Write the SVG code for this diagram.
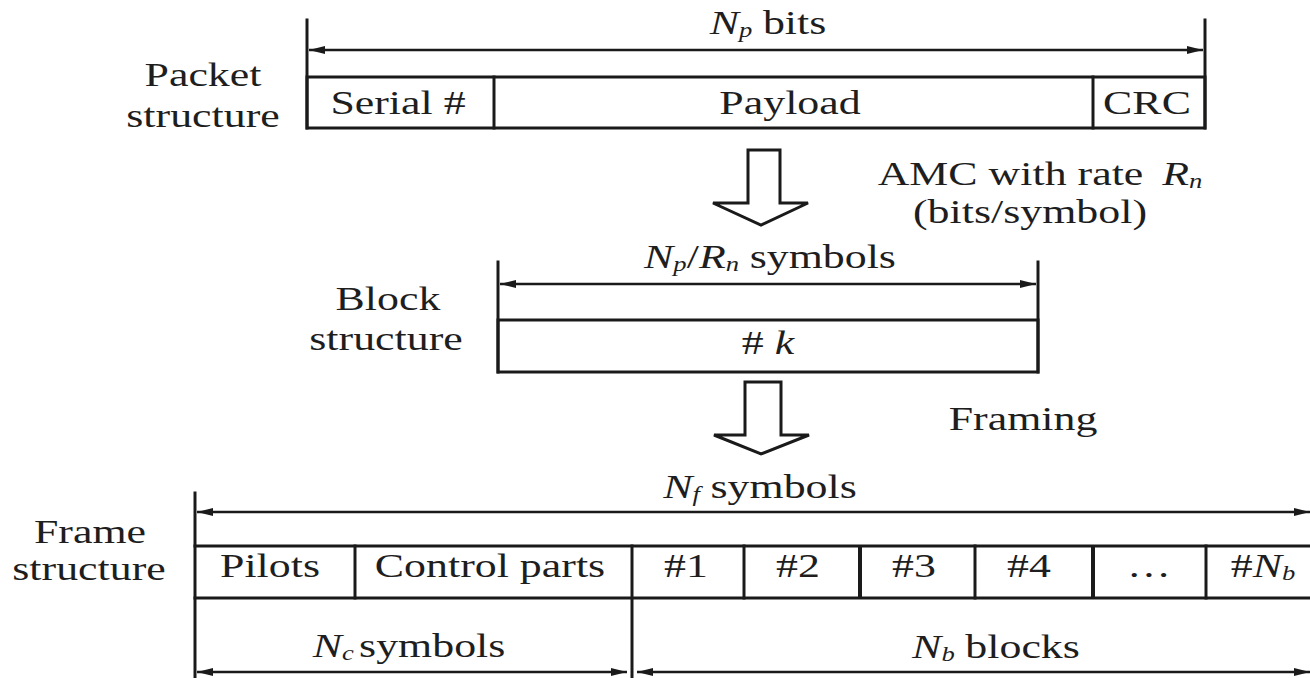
<svg xmlns="http://www.w3.org/2000/svg" width="1310" height="678" viewBox="0 0 1310 678">
  <defs>
    <style>
      .bg { fill: #ffffff; }
      .edge { stroke: #1a1a1a; stroke-width: 3; fill: none; stroke-linecap: square; }
      .thick { stroke: #1a1a1a; stroke-width: 4; fill: none; }
      .dim { stroke: #1a1a1a; stroke-width: 2.5; fill: none; marker-start: url(#tip); marker-end: url(#tip); }
      .flow { fill: #ffffff; stroke: #1a1a1a; stroke-width: 3; stroke-linejoin: miter; }
      .t { font-family: "Liberation Serif", "Times New Roman", serif; font-size: 33px; fill: #1e1e1e; text-anchor: middle; }
      .i { font-style: italic; }
      .s { font-style: italic; font-size: 20px; }
    </style>
    <marker id="tip" viewBox="0 0 16 10" refX="16" refY="5" markerWidth="16" markerHeight="10" markerUnits="userSpaceOnUse" orient="auto-start-reverse">
      <path d="M0,1 L16,5 L0,9 z" fill="#1a1a1a"/>
    </marker>
  </defs>

  <rect class="bg" x="0" y="0" width="1310" height="678"/>

  <!-- Packet structure -->
  <g id="packet">
    <text class="t" transform="translate(203 86) scale(1.33 1)">Packet</text>
    <text class="t" transform="translate(203 127) scale(1.33 1)">structure</text>
    <line class="edge" x1="307" y1="20" x2="307" y2="128"/>
    <line class="edge" x1="1205" y1="20" x2="1205" y2="128"/>
    <rect class="edge" x="307" y="77" width="898" height="51"/>
    <line class="edge" x1="494" y1="77" x2="494" y2="128"/>
    <line class="edge" x1="1093" y1="77" x2="1093" y2="128"/>
    <text class="t" transform="translate(398 114) scale(1.33 1)">Serial #</text>
    <text class="t" transform="translate(790 114) scale(1.33 1)">Payload</text>
    <text class="t" transform="translate(1147 114) scale(1.33 1)">CRC</text>
    <text class="t" transform="translate(768 34) scale(1.33 1)"><tspan class="i">N</tspan><tspan class="s" dy="3">p</tspan><tspan dy="-3" dx="8">bits</tspan></text>
  </g>

  <!-- Block structure -->
  <g id="block">
    <text class="t" transform="translate(388 310) scale(1.33 1)">Block</text>
    <text class="t" transform="translate(386 350) scale(1.33 1)">structure</text>
    <line class="edge" x1="498" y1="262" x2="498" y2="372"/>
    <line class="edge" x1="1038" y1="262" x2="1038" y2="372"/>
    <rect class="edge" x="498" y="320" width="540" height="52"/>
    <text class="t" transform="translate(768 354) scale(1.33 1)"># <tspan class="i">k</tspan></text>
    <text class="t" transform="translate(770 268) scale(1.33 1)"><tspan class="i">N</tspan><tspan class="s" dy="3">p</tspan><tspan dy="-3">/</tspan><tspan class="i">R</tspan><tspan class="s" dy="3">n</tspan><tspan dy="-3" dx="8">symbols</tspan></text>
  </g>

  <!-- Frame structure -->
  <g id="frame">
    <text class="t" transform="translate(90 543) scale(1.33 1)">Frame</text>
    <text class="t" transform="translate(89 580) scale(1.33 1)">structure</text>
    <line class="edge" x1="195" y1="493" x2="195" y2="678"/>
    <line class="edge" x1="195" y1="546" x2="1312" y2="546"/>
    <line class="edge" x1="195" y1="598" x2="1312" y2="598"/>
    <line class="edge" x1="355" y1="546" x2="355" y2="598"/>
    <line class="edge" x1="632" y1="546" x2="632" y2="678"/>
    <line class="edge" x1="744" y1="546" x2="744" y2="598"/>
    <line class="thick" x1="860" y1="546" x2="860" y2="598"/>
    <line class="edge" x1="975" y1="546" x2="975" y2="598"/>
    <line class="thick" x1="1093" y1="546" x2="1093" y2="598"/>
    <line class="edge" x1="1206" y1="546" x2="1206" y2="598"/>
    <text class="t" transform="translate(270 577) scale(1.33 1)">Pilots</text>
    <text class="t" transform="translate(490 577) scale(1.33 1)">Control parts</text>
    <text class="t" transform="translate(686 577) scale(1.33 1)">#1</text>
    <text class="t" transform="translate(798 577) scale(1.33 1)">#2</text>
    <text class="t" transform="translate(914 577) scale(1.33 1)">#3</text>
    <text class="t" transform="translate(1029 577) scale(1.33 1)">#4</text>
    <text class="t" transform="translate(1149 577) scale(1.33 1)">…</text>
    <text class="t" transform="translate(1263 577) scale(1.33 1)">#<tspan class="i">N</tspan><tspan class="s" dy="3">b</tspan></text>
    <text class="t" transform="translate(760 498) scale(1.33 1)"><tspan class="i">N</tspan><tspan class="s" dy="3">f</tspan><tspan dy="-3" dx="8">symbols</tspan></text>
    <text class="t" transform="translate(409 657) scale(1.33 1)"><tspan class="i">N</tspan><tspan class="s" dy="3">c</tspan><tspan dy="-3" dx="4">symbols</tspan></text>
    <text class="t" transform="translate(996 658) scale(1.33 1)"><tspan class="i">N</tspan><tspan class="s" dy="3">b</tspan><tspan dy="-3" dx="8">blocks</tspan></text>
  </g>

  <!-- Process labels -->
  <g id="amc-label">
    <text class="t" transform="translate(1040 185) scale(1.33 1)">AMC with rate <tspan class="i" dx="6">R</tspan><tspan class="s" dy="3">n</tspan></text>
    <text class="t" transform="translate(1030 223) scale(1.33 1)">(bits/symbol)</text>
  </g>
  <g id="framing-label">
    <text class="t" transform="translate(1023 430) scale(1.33 1)">Framing</text>
  </g>

  <!-- Connectors: dimension arrows and block arrows -->
  <g id="connectors">
    <line class="dim" x1="309" y1="50" x2="1203" y2="50"/>
    <line class="dim" x1="500" y1="284" x2="1036" y2="284"/>
    <line class="dim" x1="197" y1="512" x2="1310" y2="512"/>
    <line class="dim" x1="197" y1="672" x2="627" y2="672"/>
    <line class="dim" x1="637" y1="672" x2="1310" y2="672"/>
    <polygon class="flow" points="748,150 780,150 780,203 808,203 761,225 713,203 748,203"/>
    <polygon class="flow" points="745,382 781,382 781,435 809,435 761,454 714,435 745,435"/>
  </g>
</svg>
